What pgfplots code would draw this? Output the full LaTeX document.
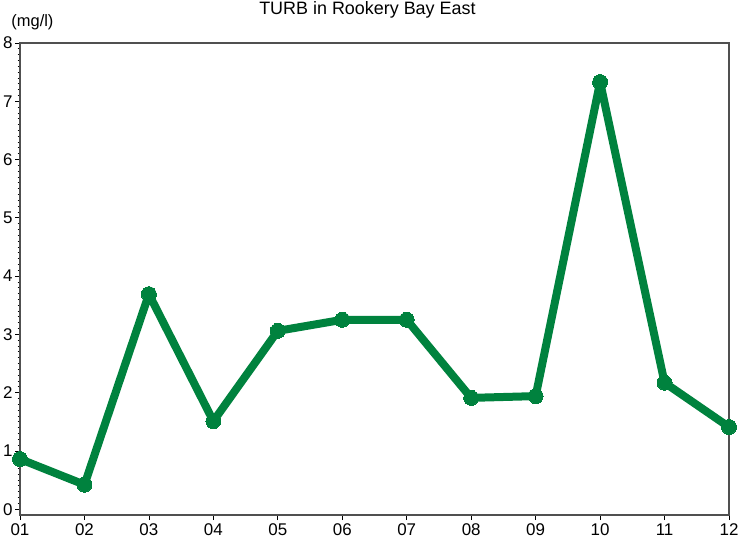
\documentclass[border=0pt]{standalone}
\usepackage{pgfplots}
\pgfplotsset{compat=1.18}
\usepackage{fontspec}
\setmainfont{Liberation Sans}
\definecolor{turbgreen}{RGB}{0,130,62}
\definecolor{axisgray}{RGB}{80,80,80}

\begin{document}
\begin{tikzpicture}
\path[use as bounding box] (0,0) rectangle (740bp,540bp);
\begin{axis}[
    at={(20bp,25bp)},
    anchor=south west,
    scale only axis,
    width=709bp,
    height=472bp,
    xmin=1, xmax=12,
    ymin=-0.1, ymax=8,
    xtick={1,...,12},
    xticklabels={01,02,03,04,05,06,07,08,09,10,11,12},
    ytick={0,...,8},
    minor y tick num=9,
    tick align=outside,
    xtick pos=bottom,
    ytick pos=left,
    major tick length=5bp,
    minor tick length=2.5bp,
    axis line style={axisgray, line width=1.2bp},
    tick style={black, line width=0.8bp},
    tick label style={font=\fontsize{17}{17}\selectfont},
    /pgf/number format/assume math mode=true,
    xticklabel style={yshift=0bp},
    yticklabel style={xshift=1bp},
    clip=false,
]
\addplot[turbgreen, line width=8bp, line join=round,
    mark=*, mark size=7.5bp, mark options={fill=turbgreen, draw=turbgreen, line width=0pt}]
coordinates {
    (1,0.86) (2,0.42) (3,3.69) (4,1.51) (5,3.06) (6,3.25)
    (7,3.25) (8,1.91) (9,1.94) (10,7.33) (11,2.17) (12,1.41)
};
\node[font=\fontsize{18}{18}\selectfont, anchor=base] at (rel axis cs:0.49,1.0) [yshift=28bp] {TURB in Rookery Bay East};
\node[font=\fontsize{16.5}{16.5}\selectfont, anchor=south west] at (rel axis cs:-0.017,1.02) {(mg/l)};
\end{axis}
\end{tikzpicture}
\end{document}
